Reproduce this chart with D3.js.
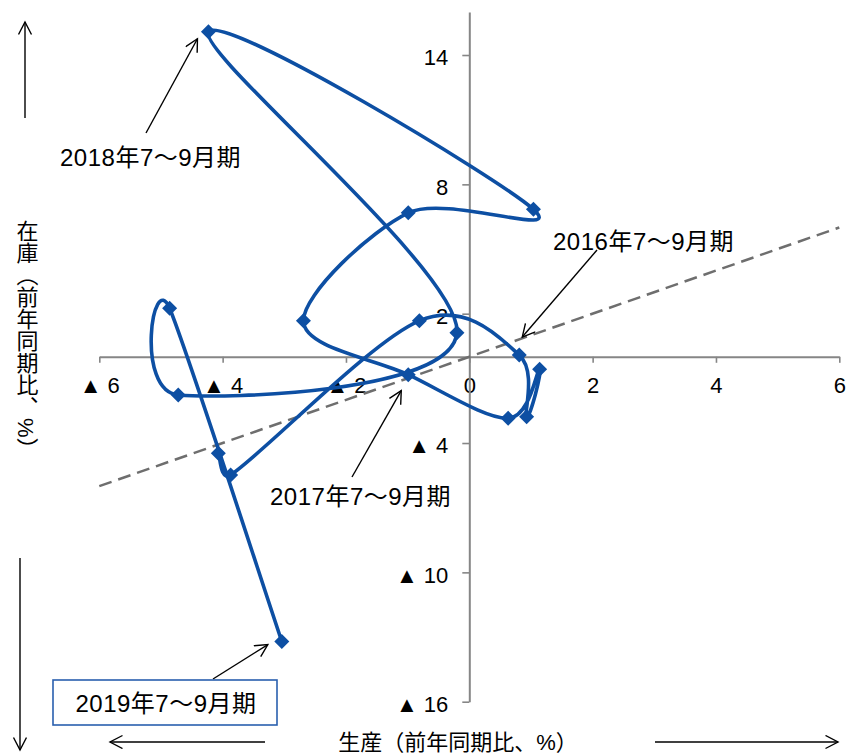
<!DOCTYPE html>
<html>
<head>
<meta charset="utf-8">
<script src="https://d3js.org/d3.v7.min.js"></script>
<style>
  body { margin: 0; background: #fff; }
  svg text { font-family: "Liberation Sans", Arial, "Noto Sans CJK JP", sans-serif; fill: #000; }
</style>
</head>
<body>
<svg id="chart" width="847" height="756"></svg>
<script>
// quarterly, 2015 Oct-Dec .. 2019 Jul-Sep
const periods = [
  "2015年10～12月期", "2016年1～3月期", "2016年4～6月期", "2016年7～9月期",
  "2016年10～12月期", "2017年1～3月期", "2017年4～6月期", "2017年7～9月期",
  "2017年10～12月期", "2018年1～3月期", "2018年4～6月期", "2018年7～9月期",
  "2018年10～12月期", "2019年1～3月期", "2019年4～6月期", "2019年7～9月期"
];
const production = [-4.07, -3.87, -0.81, 0.81, 0.93, 1.14, 0.63, -0.99, -2.69, -0.99, 1.04, -4.23, -0.20, -4.72, -4.86, -3.04];
const inventory  = [-4.48, -5.48, 1.67, 0.08, -2.78, -0.58, -2.85, -0.83, 1.67, 6.68, 6.84, 15.08, 1.12, -1.77, 2.25, -13.21];

const xTicks = [-6, -4, -2, 0, 2, 4, 6];
const xTickLabels = ["▲ 6", "▲ 4", "▲ 2", "0", "2", "4", "6"];
const yTicks = [-16, -10, -4, 2, 8, 14];
const yTickLabels = ["▲ 16", "▲ 10", "▲ 4", "2", "8", "14"];

const calloutPeriods = ["2016年7～9月期", "2017年7～9月期", "2018年7～9月期", "2019年7～9月期"];
const xTitle = "生産（前年同期比、%）";
const yTitle = "在庫（前年同期比、%）";

const data = periods.map((p, i) => ({ period: p, x: production[i], y: inventory[i] }));

const svg = d3.select("#chart");
const x = d3.scaleLinear().domain([-6, 6]).range([99.3, 839.3]);
const y = d3.scaleLinear().domain([-16, 16]).range([701.7, 11.9]);

const axisColor = "#868686";
const blue = "#0d4fa3";

// arrow markers
const defs = svg.append("defs");
defs.append("marker")
  .attr("id", "head")
  .attr("markerUnits", "userSpaceOnUse")
  .attr("markerWidth", 16).attr("markerHeight", 16)
  .attr("refX", 13).attr("refY", 7)
  .attr("orient", "auto")
  .append("path")
  .attr("d", "M0.5,0.5 L13,7 L0.5,13.5")
  .attr("fill", "none").attr("stroke", "#000").attr("stroke-width", 1.4);

// axes
const xAxis = svg.append("g")
  .attr("transform", `translate(0,${y(0)})`)
  .call(d3.axisBottom(x).tickValues(xTicks).tickSize(6).tickSizeOuter(0).tickPadding(15)
    .tickFormat((d, i) => xTickLabels[i]));
const yAxis = svg.append("g")
  .attr("transform", `translate(${x(0)},0)`)
  .call(d3.axisLeft(y).tickValues(yTicks).tickSize(7).tickSizeOuter(0).tickPadding(14)
    .tickFormat((d, i) => yTickLabels[i]));

[xAxis, yAxis].forEach(g => {
  g.select(".domain").attr("stroke", axisColor).attr("stroke-width", 2);
  g.selectAll(".tick line").attr("stroke", axisColor).attr("stroke-width", 1.6);
  g.selectAll(".tick text").attr("font-size", 22).attr("fill", "#000")
    .style("font-family", '"Liberation Sans", Arial, sans-serif');
});
yAxis.selectAll(".tick text").attr("dy", "0.45em");

// 45 degree reference line
svg.append("line")
  .attr("x1", x(-6)).attr("y1", y(-6))
  .attr("x2", x(6)).attr("y2", y(6))
  .attr("stroke", "#6e6e6e").attr("stroke-width", 2.5)
  .attr("stroke-dasharray", "13,7");

// smoothed series (Catmull-Rom style, control arms capped like spreadsheet smoothing)
function smoothPath(pts) {
  const p = d3.path();
  const k = 1 / 6, cap = 0.5;
  p.moveTo(pts[0][0], pts[0][1]);
  for (let i = 0; i < pts.length - 1; i++) {
    const p0 = pts[Math.max(i - 1, 0)], p1 = pts[i], p2 = pts[i + 1], p3 = pts[Math.min(i + 2, pts.length - 1)];
    const seg = Math.hypot(p2[0] - p1[0], p2[1] - p1[1]);
    let t1 = [(p2[0] - p0[0]) * k, (p2[1] - p0[1]) * k];
    let t2 = [(p3[0] - p1[0]) * k, (p3[1] - p1[1]) * k];
    [t1, t2] = [t1, t2].map(t => {
      const l = Math.hypot(t[0], t[1]);
      const s = l > cap * seg ? cap * seg / l : 1;
      return [t[0] * s, t[1] * s];
    });
    p.bezierCurveTo(p1[0] + t1[0], p1[1] + t1[1], p2[0] - t2[0], p2[1] - t2[1], p2[0], p2[1]);
  }
  return p.toString();
}

svg.append("path")
  .attr("d", smoothPath(data.map(d => [x(d.x), y(d.y)])))
  .attr("fill", "none")
  .attr("stroke", blue)
  .attr("stroke-width", 3.6)
  .attr("stroke-linejoin", "round");

svg.append("g").selectAll("path")
  .data(data)
  .enter()
  .append("path")
  .attr("transform", d => `translate(${x(d.x)},${y(d.y)})`)
  .attr("d", "M0,-7.5 L7.5,0 L0,7.5 L-7.5,0 Z")
  .attr("fill", blue);

// callouts
const calloutStyle = {
  "2016年7～9月期": { tx: 553, ty: 250, from: [597, 250], off: [3, -18] },
  "2017年7～9月期": { tx: 270, ty: 505, from: [352, 477], off: [-7, 16] },
  "2018年7～9月期": { tx: 60,  ty: 166, from: [146, 133], off: [-11, 7] },
  "2019年7～9月期": { tx: 166, ty: 712, from: [213, 679], off: [-14, 3], box: true }
};

calloutPeriods.forEach(p => {
  const d = data.find(e => e.period === p);
  const s = calloutStyle[p];
  svg.append("line")
    .attr("x1", s.from[0]).attr("y1", s.from[1])
    .attr("x2", x(d.x) + s.off[0]).attr("y2", y(d.y) + s.off[1])
    .attr("stroke", "#000").attr("stroke-width", 1.4)
    .attr("marker-end", "url(#head)");
  if (s.box) {
    svg.append("rect")
      .attr("x", 53).attr("y", 680).attr("width", 224).attr("height", 45)
      .attr("fill", "#fff").attr("stroke", "#2a5fae").attr("stroke-width", 1.6);
  }
  svg.append("text")
    .attr("x", s.tx).attr("y", s.ty)
    .attr("text-anchor", s.box ? "middle" : "start")
    .attr("font-size", 24)
    .attr("letter-spacing", 0.5)
    .text(p);
});

// axis titles
svg.append("text")
  .attr("x", 458).attr("y", 750)
  .attr("text-anchor", "middle")
  .attr("font-size", 22)
  .text(xTitle);

svg.append("text")
  .attr("x", 25).attr("y", 220)
  .attr("font-size", 22)
  .style("writing-mode", "vertical-rl")
  .text(yTitle);

// direction arrows
const dirArrows = [
  [25, 118, 25, 22],
  [20, 558, 20, 750],
  [265, 742, 110, 742],
  [655, 742, 838, 742]
];
svg.append("g").selectAll("line")
  .data(dirArrows)
  .enter()
  .append("line")
  .attr("x1", d => d[0]).attr("y1", d => d[1])
  .attr("x2", d => d[2]).attr("y2", d => d[3])
  .attr("stroke", "#000").attr("stroke-width", 1.4)
  .attr("marker-end", "url(#head)");
</script>
</body>
</html>
